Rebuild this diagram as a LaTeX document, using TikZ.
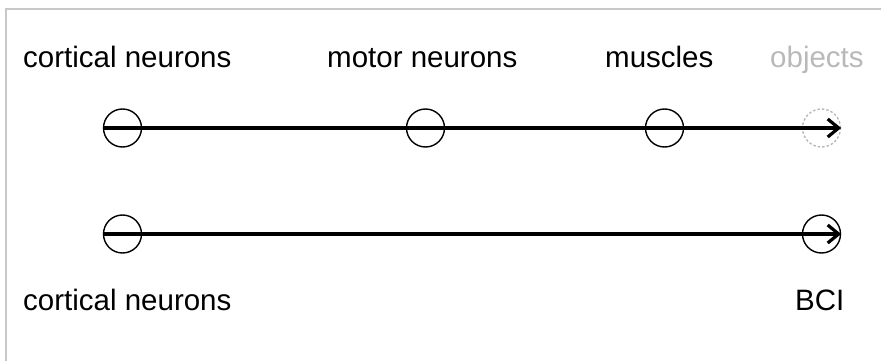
\documentclass[tikz,border=0pt]{standalone}
\usepackage{fontspec}
\setmainfont{Liberation Sans}
\usetikzlibrary{arrows.meta}
\definecolor{framegray}{RGB}{200,200,200}
\definecolor{faded}{RGB}{185,185,185}

\begin{document}
\begin{tikzpicture}[x=1pt, y=-1pt, font=\fontsize{29.5}{34}\selectfont,
  stage/.style={circle, draw, line width=1.4pt, minimum size=38pt, inner sep=0pt},
  lbl/.style={anchor=base west, inner sep=0pt},
  flow/.style={line width=3.2pt, -{Straight Barb[length=11pt, width=18pt, line width=3.2pt]}}]
\useasboundingbox (0,0) rectangle (881,361);
\draw[framegray, line width=2.5pt] (6,361) -- (6,9) -- (881,9);
% top row: natural pathway
\node[lbl] (cn) at (23,67) {cortical neurons};
\node[lbl] (mn) at (327,67) {motor neurons};
\node[lbl] (mu) at (605,67) {muscles};
\node[lbl, text=faded] (ob) at (770,67) {objects};
\node[stage] (s1) at (122.5,128) {};
\node[stage] (s2) at (425.5,128) {};
\node[stage] (s3) at (664.5,128) {};
\node[stage, draw=faded, dashed, dash pattern=on 2.5pt off 2pt] (s4) at (821.5,128) {};
\draw[flow] (s1.west) -- (s4.east);
% bottom row: BCI pathway
\node[stage] (t1) at (122.5,234) {};
\node[stage] (t2) at (821.5,234) {};
\draw[flow] (t1.west) -- (t2.east);
\node[lbl] (cn2) at (23,310) {cortical neurons};
\node[lbl] (bci) at (795,310) {BCI};
\end{tikzpicture}
\end{document}
